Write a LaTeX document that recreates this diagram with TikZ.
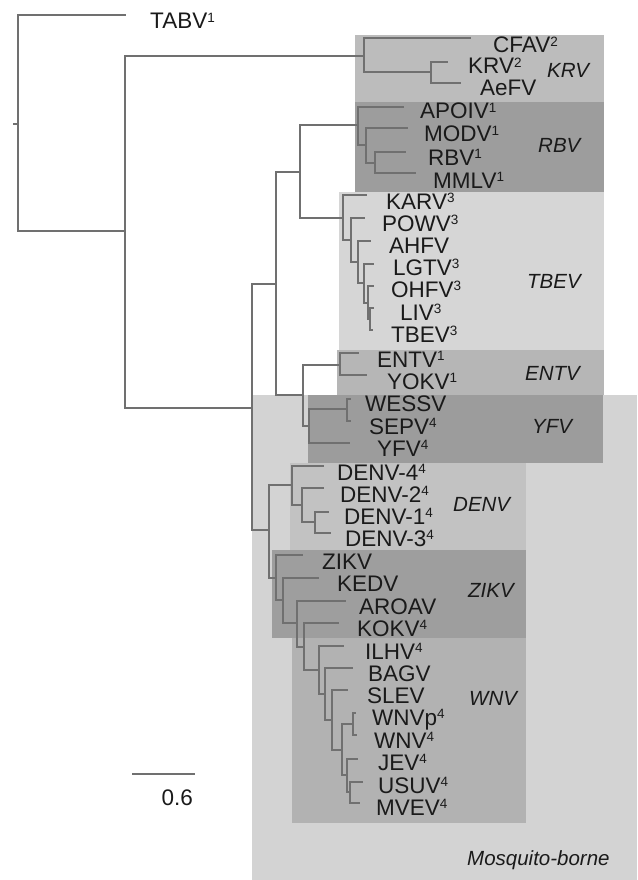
\documentclass[tikz,border=0pt]{standalone}
\usepackage{fontspec}
\setmainfont{Liberation Sans}
\definecolor{treegray}{HTML}{707070}
\definecolor{cMos}{HTML}{D3D3D3}
\definecolor{cKRV}{HTML}{BCBCBC}
\definecolor{cRBV}{HTML}{9D9D9D}
\definecolor{cTBEV}{HTML}{D6D6D6}
\definecolor{cENTV}{HTML}{B6B6B6}
\definecolor{cYFV}{HTML}{9C9C9C}
\definecolor{cDENV}{HTML}{C2C2C2}
\definecolor{cZIKV}{HTML}{9E9E9E}
\definecolor{cWNV}{HTML}{B2B2B2}
\definecolor{txt}{HTML}{1A1A1A}
\newcommand\sps[1]{\raisebox{6.3pt}{\fontsize{13.5}{14}\selectfont #1}}
\begin{document}
\begin{tikzpicture}[x=1pt,y=-1pt,
  br/.style={draw=treegray, line width=1.1pt, line cap=rect},
  lab/.style={anchor=base west, inner sep=0pt, text=txt, font=\fontsize{22.5}{25}\selectfont},
  grp/.style={anchor=base west, inner sep=0pt, text=txt, font=\fontsize{20.5}{24}\selectfont\itshape}]
\useasboundingbox (0,0) rectangle (637,880);
\fill[white] (0,0) rectangle (637,880);
% shaded clade boxes
\fill[cMos]  (252,395) rectangle (637,880);
\fill[cKRV]  (355,35)  rectangle (604,102);
\fill[cRBV]  (355,102) rectangle (604,192);
\fill[cTBEV] (339,192) rectangle (604,350);
\fill[cENTV] (337,350) rectangle (604,395);
\fill[cYFV]  (308,395) rectangle (603,463);
\fill[cDENV] (290,463) rectangle (526,550);
\fill[cZIKV] (272,550) rectangle (526,638);
\fill[cWNV]  (292,638) rectangle (526,823);
% tree
\draw[br] (14,124) -- (18,124);
\draw[br] (125,15) -| (18,231) -- (125,231);
\draw[br] (364,56) -| (125,408) -- (252,408);
% KRV
\draw[br] (470,38) -| (364,72) -- (431,72);
\draw[br] (447,62) -| (431,83) -- (460,83);
% backbone
\draw[br] (276,284) -| (252,530) -- (269,530);
\draw[br] (300,172) -| (276,395) -- (303,395);
\draw[br] (358,125) -| (300,218) -- (343,218);
% RBV
\draw[br] (403,107) -| (358,145) -- (366,145);
\draw[br] (407,128) -| (366,163) -- (375,163);
\draw[br] (405,152) -| (375,173) -- (415,173);
% TBEV
\draw[br] (366,195) -| (343,240) -- (351,240);
\draw[br] (364,218) -| (351,262) -- (358,262);
\draw[br] (370,241) -| (358,283) -- (364,283);
\draw[br] (373,264) -| (364,303) -- (368,303);
\draw[br] (373,286) -| (368,319) -- (370,319);
\draw[br] (373,308) -| (370,330) -- (372,330);
% ENTV / YFV
\draw[br] (340,365) -| (303,426) -- (309,426);
\draw[br] (358,353) -| (340,375) -- (366,375);
\draw[br] (347,409) -| (309,443) -- (349,443);
\draw[br] (350,399) -| (347,421) -- (350,421);
% DENV
\draw[br] (292,485) -| (269,578) -- (276,578);
\draw[br] (323,466) -| (292,505) -- (302,505);
\draw[br] (323,488) -| (302,522) -- (315,522);
\draw[br] (328,512) -| (315,533) -- (330,533);
% ZIKV
\draw[br] (302,555) -| (276,600) -- (283,600);
\draw[br] (318,578) -| (283,623) -- (297,623);
\draw[br] (345,601) -| (297,647) -- (304,647);
\draw[br] (338,623) -| (304,670) -- (319,670);
% WNV
\draw[br] (343,646) -| (319,694) -- (325,694);
\draw[br] (352,668) -| (325,720) -- (332,720);
\draw[br] (347,690) -| (332,750) -- (342,750);
\draw[br] (353,724) -| (342,775) -- (347,775);
\draw[br] (355,713) -| (353,735) -- (356,735);
\draw[br] (357,759) -| (347,792) -- (350,792);
\draw[br] (362,782) -| (350,803) -- (359,803);
% leaf labels
\node[lab] (TABV) at (150,29) {TABV\sps{1}};
\node[lab] (CFAV) at (493,53) {CFAV\sps{2}};
\node[lab] (KRV) at (468,74) {KRV\sps{2}};
\node[lab] (AeFV) at (480,96) {AeFV};
\node[lab] (APOIV) at (420,119) {APOIV\sps{1}};
\node[lab] (MODV) at (424,142) {MODV\sps{1}};
\node[lab] (RBV) at (428,165) {RBV\sps{1}};
\node[lab] (MMLV) at (433,188) {MMLV\sps{1}};
\node[lab] (KARV) at (386,209) {KARV\sps{3}};
\node[lab] (POWV) at (382,231) {POWV\sps{3}};
\node[lab] (AHFV) at (389,253) {AHFV};
\node[lab] (LGTV) at (393,275) {LGTV\sps{3}};
\node[lab] (OHFV) at (391,297) {OHFV\sps{3}};
\node[lab] (LIV) at (400,320) {LIV\sps{3}};
\node[lab] (TBEV) at (391,342) {TBEV\sps{3}};
\node[lab] (ENTV) at (377,367) {ENTV\sps{1}};
\node[lab] (YOKV) at (387,389) {YOKV\sps{1}};
\node[lab] (WESSV) at (365,411) {WESSV};
\node[lab] (SEPV) at (369,434) {SEPV\sps{4}};
\node[lab] (YFV) at (377,456) {YFV\sps{4}};
\node[lab] (DENV4) at (337,480) {DENV-4\sps{4}};
\node[lab] (DENV2) at (340,502) {DENV-2\sps{4}};
\node[lab] (DENV1) at (344,524) {DENV-1\sps{4}};
\node[lab] (DENV3) at (345,546) {DENV-3\sps{4}};
\node[lab] (ZIKV) at (322,569) {ZIKV};
\node[lab] (KEDV) at (337,591) {KEDV};
\node[lab] (AROAV) at (359,614) {AROAV};
\node[lab] (KOKV) at (357,636) {KOKV\sps{4}};
\node[lab] (ILHV) at (365,659) {ILHV\sps{4}};
\node[lab] (BAGV) at (368,681) {BAGV};
\node[lab] (SLEV) at (367,703) {SLEV};
\node[lab] (WNVp) at (372,725) {WNVp\sps{4}};
\node[lab] (WNV) at (374,748) {WNV\sps{4}};
\node[lab] (JEV) at (378,770) {JEV\sps{4}};
\node[lab] (USUV) at (378,793) {USUV\sps{4}};
\node[lab] (MVEV) at (376,815) {MVEV\sps{4}};
% group labels
\node[grp] (gKRV) at (547,78) {KRV};
\node[grp] (gRBV) at (538,152) {RBV};
\node[grp] (gTBEV) at (527,288) {TBEV};
\node[grp] (gENTV) at (525,380) {ENTV};
\node[grp] (gYFV) at (532,433) {YFV};
\node[grp] (gDENV) at (453,511) {DENV};
\node[grp] (gZIKV) at (468,597) {ZIKV};
\node[grp] (gWNV) at (469,705) {WNV};
\node[grp] (gMos) at (467,865) {Mosquito-borne};
% scale bar
\coordinate (sb1) at (133,774);
\coordinate (sb2) at (194,774);
\draw[br] (sb1) -- (sb2);
\node[lab, anchor=base east] (sbl) at (193,805) {0.6};
\end{tikzpicture}
\end{document}
